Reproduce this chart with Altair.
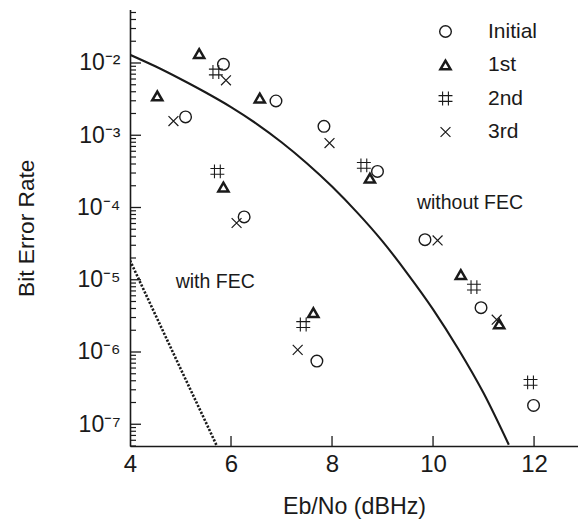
import json
import altair as alt
import pandas as pd

# ---------------- data ----------------
series_names = ["Initial", "1st", "2nd", "3rd"]

initial_x = [5.85, 5.10, 6.89, 7.84, 8.90, 6.26, 9.84, 10.95, 7.70, 11.99]
initial_y = [9.6e-3, 1.79e-3, 2.98e-3, 1.33e-3, 3.16e-4, 7.4e-5, 3.58e-5, 4.1e-6, 7.5e-7, 1.82e-7]

first_x = [5.37, 4.54, 6.57, 5.85, 8.75, 10.55, 11.31, 7.63]
first_y = [1.35e-2, 3.5e-3, 3.27e-3, 1.92e-4, 2.55e-4, 1.18e-5, 2.45e-6, 3.5e-6]

second_x = [5.70, 5.73, 8.63, 10.81, 7.43, 11.93]
second_y = [7.5e-3, 3.16e-4, 3.83e-4, 7.9e-6, 2.4e-6, 3.8e-7]

third_x = [5.90, 4.86, 7.95, 6.11, 10.09, 11.26, 7.32]
third_y = [5.75e-3, 1.57e-3, 7.8e-4, 6.1e-5, 3.5e-5, 2.8e-6, 1.07e-6]

# curve "without FEC"
nofec_x = [4.0, 4.5, 5.0, 5.5, 6.0, 6.5, 7.0, 7.5, 8.0, 8.5, 9.0, 9.5, 10.0, 10.5, 11.0, 11.5]
nofec_y = [1.3e-2, 9.0e-3, 6.0e-3, 3.9e-3, 2.45e-3, 1.45e-3, 8.0e-4, 4.1e-4, 1.95e-4,
           8.5e-5, 3.4e-5, 1.2e-5, 3.9e-6, 1.1e-6, 2.7e-7, 5.2e-8]

# curve "with FEC" (dotted)
fec_x = [4.0, 4.5, 5.0, 5.5, 5.72]
fec_y = [1.85e-5, 3.3e-6, 5.9e-7, 1.07e-7, 5.0e-8]

# annotations
ann_text = ["with FEC", "without FEC"]
ann_x = [4.905, 9.68]
ann_y = [9.3e-6, 1.15e-4]

# axes
x_domain = [4, 12.87]
x_ticks = [4, 6, 8, 10, 12]
x_inner_ticks = [6, 8, 10, 12]
y_domain = [5e-8, 5.5e-2]
y_major = [1e-7, 1e-6, 1e-5, 1e-4, 1e-3, 1e-2]
y_labels = ["10\u207b\u2077", "10\u207b\u2076", "10\u207b\u2075", "10\u207b\u2074", "10\u207b\u00b3", "10\u207b\u00b2"]
y_minor = [m * 10.0 ** e for e in range(-8, -1) for m in range(2, 10)
           if y_domain[0] * 0.999 <= m * 10.0 ** e <= y_domain[1]]

# ---------------- tables ----------------
rows = []
for name, xs_, ys_ in zip(series_names,
                          [initial_x, first_x, second_x, third_x],
                          [initial_y, first_y, second_y, third_y]):
    for a, b in zip(xs_, ys_):
        rows.append({"x": a, "y": b, "series": name})
df_pts = pd.DataFrame(rows)
df_nofec = pd.DataFrame({"x": nofec_x, "y": nofec_y})
df_fec = pd.DataFrame({"x": fec_x, "y": fec_y})
df_ann = pd.DataFrame({"x": ann_x, "y": ann_y, "t": ann_text})
df_ymaj = pd.DataFrame({"y": y_major})
df_ymin = pd.DataFrame({"y": y_minor})
df_xt = pd.DataFrame({"x": x_inner_ticks})

# ---------------- style ----------------
W, H = 448, 436.5
INK = "#1a1a1a"
FONT = "Liberation Sans"

xs = alt.Scale(domain=x_domain, nice=False, zero=False)
ys = alt.Scale(type="log", domain=y_domain, nice=False)

label_expr = json.dumps(y_labels, ensure_ascii=False) + "[round(log(datum.value)/LN10)+7]"

x_axis = alt.Axis(values=x_ticks, ticks=False, tickSize=0, grid=False, domain=True,
                  domainColor=INK, domainWidth=1.6, labelFont=FONT, labelFontSize=24,
                  labelColor=INK, labelBaseline="alphabetic", labelPadding=25,
                  labelFlush=False, labelOverlap=False,
                  title="Eb/No (dBHz)", titleFont=FONT, titleFontSize=23.2,
                  titleFontWeight="normal", titleColor=INK, titleY=67,
                  titleBaseline="alphabetic")

y_axis = alt.Axis(values=y_major, labelExpr=label_expr, ticks=False, tickSize=0,
                  grid=False, domain=True, domainColor=INK, domainWidth=1.6,
                  labelFont=FONT, labelFontSize=23, labelColor=INK,
                  labelBaseline="middle", labelPadding=10, labelOverlap=False,
                  labelFlush=False,
                  title="Bit Error Rate", titleFont=FONT, titleFontSize=22.7,
                  titleFontWeight="normal", titleColor=INK, titleX=-104,
                  titleBaseline="middle")


def X(field):
    return alt.X(field, type="quantitative", scale=xs, axis=x_axis)


def Y(field):
    return alt.Y(field, type="quantitative", scale=ys, axis=y_axis)


shape_paths = [
    "circle",
    "M0,-0.75L-0.87,0.75L0.87,0.75Z",
    "M-0.5,-1.2L-0.5,1.2M0.5,-1.2L0.5,1.2M-1.2,-0.5L1.2,-0.5M-1.2,0.5L1.2,0.5",
    "M-0.85,-0.85L0.85,0.85M-0.85,0.85L0.85,-0.85",
]
stroke_widths = [1.4, 2.5, 1.1, 1.2]

legend = alt.Legend(title=None, orient="none", legendX=305, legendY=11.5, symbolSize=135,
                    symbolFillColor="transparent", symbolStrokeColor=INK,
                    labelFont=FONT, labelFontSize=21, labelColor=INK, labelOffset=32,
                    rowPadding=11.5, padding=0)

# ---------------- layers ----------------
points = alt.Chart(df_pts).mark_point(
    filled=False, size=135, opacity=1, color=INK
).encode(
    x=X("x"),
    y=Y("y"),
    shape=alt.Shape("series:N", scale=alt.Scale(domain=series_names, range=shape_paths),
                    legend=legend),
    strokeWidth=alt.StrokeWidth("series:N",
                                scale=alt.Scale(type="ordinal", domain=series_names,
                                                range=stroke_widths),
                                legend=legend),
)

line_nofec = alt.Chart(df_nofec).mark_line(
    color=INK, strokeWidth=2.1, interpolate="monotone", clip=True
).encode(x=X("x"), y=Y("y"))

line_fec = alt.Chart(df_fec).mark_line(
    color=INK, strokeWidth=2.6, strokeDash=[2.2, 1.6], clip=True
).encode(x=X("x"), y=Y("y"))

labels = alt.Chart(df_ann).mark_text(
    align="left", baseline="middle", font=FONT, fontSize=19.5, color=INK
).encode(x=X("x"), y=Y("y"), text="t:N")

# inward axis ticks, placed through the scales
ymaj_ticks = alt.Chart(df_ymaj).mark_rule(color=INK, strokeWidth=1.3).encode(
    y=Y("y"), x=alt.value(0), x2=alt.value(11))
ymin_ticks = alt.Chart(df_ymin).mark_rule(color=INK, strokeWidth=1.2).encode(
    y=Y("y"), x=alt.value(0), x2=alt.value(6))
x_ticks_in = alt.Chart(df_xt).mark_rule(color=INK, strokeWidth=1.3).encode(
    x=X("x"), y=alt.value(H), y2=alt.value(H - 10))

chart = alt.layer(
    points, line_nofec, line_fec, labels, ymaj_ticks, ymin_ticks, x_ticks_in
).properties(
    width=W, height=H,
    autosize=alt.AutoSizeParams(type="none"),
    padding={"left": 122, "top": 1.5, "right": 0, "bottom": 77},
    background="white",
).configure_view(stroke=None)

chart.save("out.html", embed_options={"renderer": "svg", "actions": False})
